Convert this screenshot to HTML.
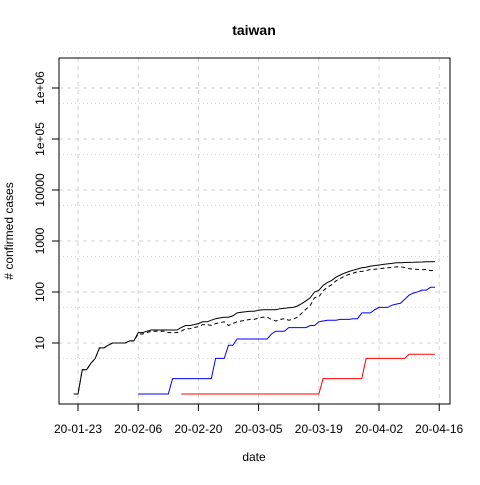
<!DOCTYPE html>
<html><head><meta charset="utf-8"><style>
body{margin:0;background:#fff}
text{font-family:"Liberation Sans",sans-serif;font-size:12px}
</style></head><body>
<svg id="c" width="480" height="480" xmlns="http://www.w3.org/2000/svg">
<rect width="480" height="480" fill="#fff"/>
<text x="254" y="35" text-anchor="middle" font-weight="bold" style="font-size:14px">taiwan</text>
<text x="254" y="461" text-anchor="middle">date</text>
<text transform="translate(13,231) rotate(-90)" text-anchor="middle"># confirmed cases</text>
<g id="grid"></g><g id="axes"></g><g id="series"></g>
<rect x="59" y="58" width="391" height="346" fill="none" stroke="#000"/>
</svg>
<script>
const confirmed=[1,1,3,3,4,5,8,8,9,10,10,10,10,11,11,16,16,17,18,18,18,18,18,18,18,20,22,22,23,24,26,26,28,30,31,32,32,34,39,40,41,42,42,44,45,45,45,45,47,48,49,50,53,59,67,77,100,108,135,153,169,195,215,235,252,267,283,298,306,322,329,339,348,355,363,373,376,379,380,382,385,388,393,393,395];
const active=[1,1,3,3,4,5,8,8,9,10,10,10,10,11,11,15,15,16,17,17,17,17,16,16,16,17,19,19,20,21,23,23,22,24,25,26,22,24,26,27,28,29,29,31,32,32,29,27,29,30,28,29,32,38,46,54,77,80,106,123,139,165,184,204,221,235,251,254,262,278,279,284,293,300,303,310,311,302,288,281,278,273,278,263,265];
const recovered=[null,null,null,null,null,null,null,null,null,null,null,null,null,null,null,1,1,1,1,1,1,1,1,2,2,2,2,2,2,2,2,2,2,5,5,5,9,9,12,12,12,12,12,12,12,12,15,17,17,17,20,20,20,20,20,22,22,26,27,28,28,28,29,29,29,30,30,39,39,39,45,50,50,50,55,58,60,72,87,95,101,109,109,124,124];
const deaths=[null,null,null,null,null,null,null,null,null,null,null,null,null,null,null,null,null,null,null,null,null,null,null,null,null,1,1,1,1,1,1,1,1,1,1,1,1,1,1,1,1,1,1,1,1,1,1,1,1,1,1,1,1,1,1,1,1,1,2,2,2,2,2,2,2,2,2,2,5,5,5,5,5,5,5,5,5,5,6,6,6,6,6,6,6];
const xTickLabels=["20-01-23","20-02-06","20-02-20","20-03-05","20-03-19","20-04-02","20-04-16"];
const xTickDays=[1,15,29,43,57,71,85];
const yTickVals=[10,100,1000,10000,100000,1000000];
const yTickLabels=["10","100","1000","10000","1e+05","1e+06"];
const NS="http://www.w3.org/2000/svg";
const X=d=>78+(d-1)*4.3;
const Y=v=>394-51*Math.log10(v);
function mk(t,a,p){const e=document.createElementNS(NS,t);for(const k in a)e.setAttribute(k,a[k]);document.getElementById(p).appendChild(e);return e;}
xTickDays.forEach((d,i)=>{
 const g=mk('line',{x1:X(d),x2:X(d),y1:58,y2:404,stroke:'#d3d3d3','stroke-dasharray':'4,4'},'grid');
 
 const t=mk('line',{x1:X(d),x2:X(d),y1:404,y2:411,stroke:'#000'},'axes');
 
 const l=mk('text',{x:X(d),y:433,'text-anchor':'middle'},'axes');l.textContent=xTickLabels[i];
 
});
mk('line',{x1:X(xTickDays[0]),x2:X(xTickDays[xTickDays.length-1]),y1:404,y2:404,stroke:'#000'},'axes');
yTickVals.forEach((v,i)=>{
 const g=mk('line',{x1:59,x2:450,y1:Y(v),y2:Y(v),stroke:'#d3d3d3','stroke-dasharray':'4,4'},'grid');
 
 const g2=mk('line',{x1:59,x2:450,y1:Y(v*5),y2:Y(v*5),stroke:'#d3d3d3','stroke-dasharray':'1,3'},'grid');
 
 const t=mk('line',{x1:52,x2:59,y1:Y(v),y2:Y(v),stroke:'#000'},'axes');
 
 const l=mk('text',{transform:`translate(44,${Y(v)}) rotate(-90)`,'text-anchor':'middle'},'axes');l.textContent=yTickLabels[i];
 
});
mk('line',{x1:59,x2:59,y1:Y(10),y2:Y(1000000),stroke:'#000'},'axes');
const g5=mk('line',{x1:59,x2:450,y1:Y(5),y2:Y(5),stroke:'#d3d3d3','stroke-dasharray':'1,3'},'grid');


function path(arr){let d='',pen=false;arr.forEach((v,i)=>{if(v==null||v<=0){pen=false;return;}d+=(pen?'L':'M')+X(i).toFixed(1)+','+Y(v).toFixed(1);pen=true;});return d;}
const s1=mk('path',{d:path(active),fill:'none',stroke:'#000','stroke-dasharray':'4,3'},'series');

const s2=mk('path',{d:path(confirmed),fill:'none',stroke:'#000'},'series');

const s3=mk('path',{d:path(recovered),fill:'none',stroke:'#00f'},'series');

const s4=mk('path',{d:path(deaths),fill:'none',stroke:'#f00'},'series');

</script>
</body></html>
